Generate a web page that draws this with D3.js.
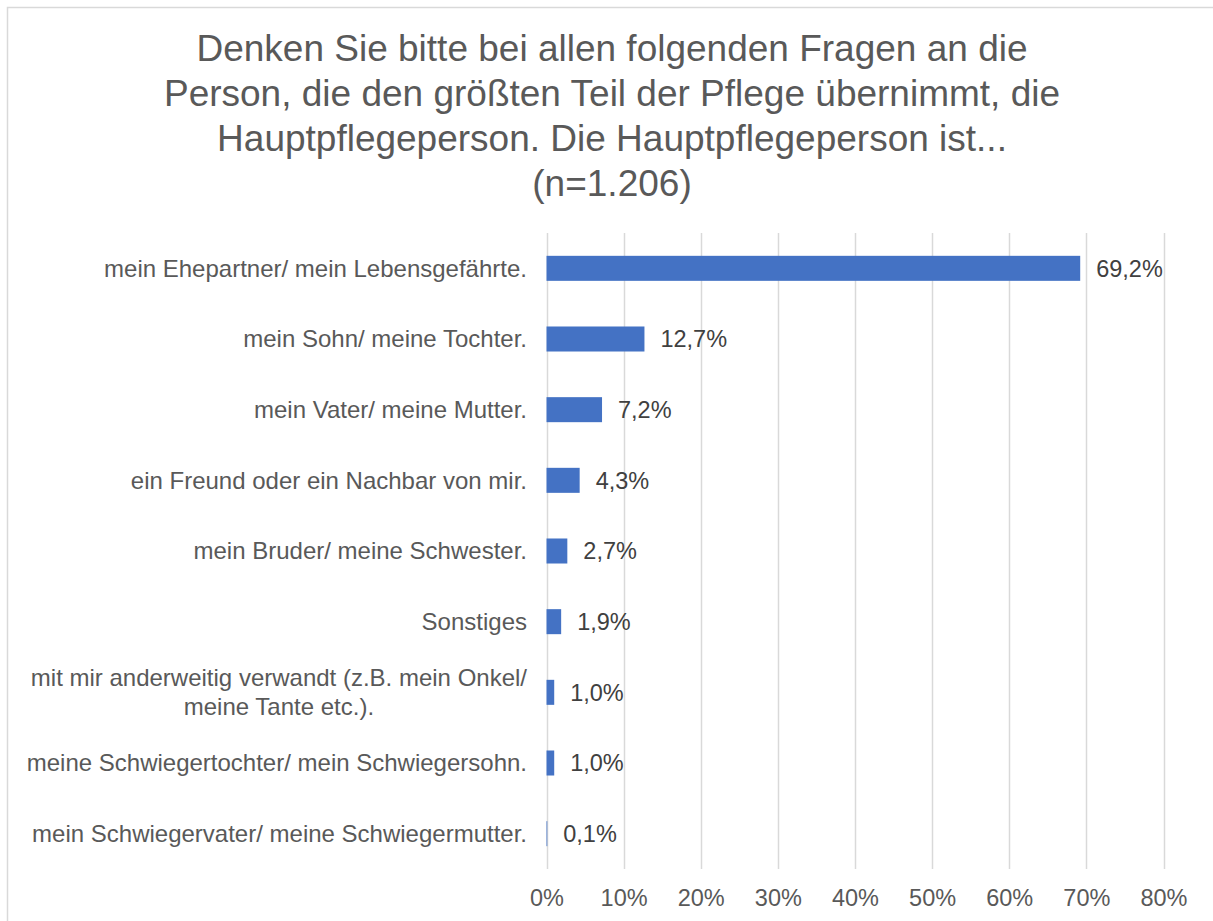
<!DOCTYPE html>
<html>
<head>
<meta charset="utf-8">
<script src="https://cdn.jsdelivr.net/npm/d3@7"></script>
<style>
  html, body { margin: 0; padding: 0; background: #fff; }
  svg { display: block; font-family: "Liberation Sans", Arial, sans-serif; }
</style>
</head>
<body>
<svg id="chart" width="1213" height="921"></svg>
<script>
const titleLines = [
  "Denken Sie bitte bei allen folgenden Fragen an die",
  "Person, die den größten Teil der Pflege übernimmt, die",
  "Hauptpflegeperson. Die Hauptpflegeperson ist...",
  "(n=1.206)"
];
const categories = [
  "mein Ehepartner/ mein Lebensgefährte.",
  "mein Sohn/ meine Tochter.",
  "mein Vater/ meine Mutter.",
  "ein Freund oder ein Nachbar von mir.",
  "mein Bruder/ meine Schwester.",
  "Sonstiges",
  "mit mir anderweitig verwandt (z.B. mein Onkel/ meine Tante etc.).",
  "meine Schwiegertochter/ mein Schwiegersohn.",
  "mein Schwiegervater/ meine Schwiegermutter."
];
const categoryLines = [
  ["mein Ehepartner/ mein Lebensgefährte."],
  ["mein Sohn/ meine Tochter."],
  ["mein Vater/ meine Mutter."],
  ["ein Freund oder ein Nachbar von mir."],
  ["mein Bruder/ meine Schwester."],
  ["Sonstiges"],
  ["mit mir anderweitig verwandt (z.B. mein Onkel/", "meine Tante etc.)."],
  ["meine Schwiegertochter/ mein Schwiegersohn."],
  ["mein Schwiegervater/ meine Schwiegermutter."]
];
const values = [69.2, 12.7, 7.2, 4.3, 2.7, 1.9, 1.0, 1.0, 0.1];
const tickValues = [0, 10, 20, 30, 40, 50, 60, 70, 80];

const svg = d3.select("#chart");
const textColor = "#595959";

// outer chart border
svg.append("rect")
  .attr("x", 7.5).attr("y", 7.5)
  .attr("width", 1230).attr("height", 940)
  .attr("fill", "none").attr("stroke", "#d9d9d9").attr("stroke-width", 1.5);

// title
svg.append("g").selectAll("text").data(titleLines).join("text")
  .attr("x", 612)
  .attr("y", (d, i) => 48 + i * 45)
  .attr("dy", "0.35em")
  .attr("text-anchor", "middle")
  .attr("fill", textColor)
  .style("font-size", "37px")
  .text(d => d);

const x = d3.scaleLinear().domain([0, 80]).range([546.5, 1163.5]);
const y = d3.scaleBand().domain(categories).range([233, 869])
  .paddingInner(0.646).paddingOuter(0.323);

// gridlines
svg.append("g").selectAll("line").data(tickValues).join("line")
  .attr("x1", d => Math.round(x(d)) + 0.5).attr("x2", d => Math.round(x(d)) + 0.5)
  .attr("y1", 233).attr("y2", 869)
  .attr("stroke", "#d9d9d9").attr("stroke-width", 1.5);

// x axis labels
const xAxis = d3.axisBottom(x).tickValues(tickValues).tickFormat(d => d + "%").tickSize(0).tickPadding(0);
const gx = svg.append("g").attr("transform", "translate(0,898)").call(xAxis);
gx.select(".domain").remove();
gx.selectAll("text")
  .attr("y", 0).attr("dy", "0.35em")
  .attr("fill", textColor)
  .style("font-size", "23.5px")
  .style("font-family", "'Liberation Sans', Arial, sans-serif");

// bars
svg.append("g").selectAll("rect").data(values).join("rect")
  .attr("x", x(0))
  .attr("y", (d, i) => y(categories[i]))
  .attr("width", d => x(d) - x(0))
  .attr("height", y.bandwidth())
  .attr("fill", "#4472c4");

// value labels
svg.append("g").selectAll("text").data(values).join("text")
  .attr("x", d => x(d) + 16)
  .attr("y", (d, i) => y(categories[i]) + y.bandwidth() / 2)
  .attr("dy", "0.35em")
  .attr("fill", "#404040")
  .style("font-size", "23.5px")
  .text(d => d.toFixed(1).replace(".", ",") + "%");

// category labels
const labelRight = 527;
const gl = svg.append("g");
categoryLines.forEach((lines, i) => {
  const cy = y(categories[i]) + y.bandwidth() / 2;
  const lh = 29;
  const t = gl.append("text")
    .attr("fill", textColor)
    .style("font-size", "24px");
  lines.forEach((ln, j) => {
    t.append("tspan")
      .attr("y", cy + (j - (lines.length - 1) / 2) * lh)
      .attr("dy", "0.35em")
      .text(ln);
  });
  if (lines.length === 1) {
    t.attr("text-anchor", "end").selectAll("tspan").attr("x", labelRight);
  } else {
    const widths = [];
    t.selectAll("tspan").each(function() { widths.push(this.getComputedTextLength()); });
    const mx = d3.max(widths);
    t.attr("text-anchor", "middle").selectAll("tspan").attr("x", labelRight - mx / 2);
  }
});
</script>
</body>
</html>
